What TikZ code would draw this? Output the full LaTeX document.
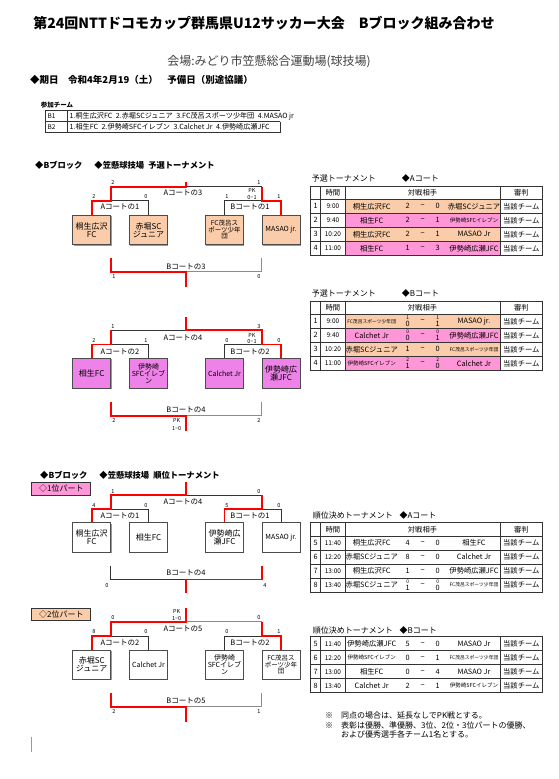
\documentclass[tikz,border=0pt]{standalone}
\usepackage{fontspec}
\setmainfont{Noto Sans CJK JP}
\usetikzlibrary{positioning, shadows}
\definecolor{peach}{RGB}{250,204,170}
\definecolor{boxpink}{RGB}{238,130,232}
\definecolor{rowpink}{RGB}{255,150,215}
\newcommand\fsz[1]{\fontsize{#1}{#1}\selectfont}
\newcommand\stk[2]{\fontsize{5}{6.5}\selectfont #1\\#2}

\begin{document}
\begin{tikzpicture}[x=1pt, y=-1pt,
  team/.style={draw=black!70, fill=white, line width=0.7pt, minimum width=38pt, minimum height=29.5pt, inner sep=1pt, align=center, font=\fsz{8}, drop shadow={shadow xshift=0.8pt, shadow yshift=-0.8pt, fill=black!40, opacity=1}},
  win/.style={red, line width=1.6pt},
  lose/.style={black!80, line width=0.6pt},
  pale/.style={black!45, line width=0.9pt},
  score/.style={font=\fsz{5.5}, inner sep=0},
  court/.style={font=\fsz{7.5}, inner sep=0},
  cell/.style={font=\fsz{7.3}, inner sep=0, align=center},
  part/.style={draw=black!80, line width=0.8pt, minimum width=59pt, minimum height=12.5pt, inner sep=0, font=\fsz{8}}
]
\fill[white] (0,0) rectangle (559,779);
\useasboundingbox (0,0) rectangle (559,779);

% heading
\node[font=\fsz{14}\bfseries, inner sep=0] (title) at (264,23) {第24回NTTドコモカップ群馬県U12サッカー大会\quad Bブロック組み合わせ};
\node[font=\fsz{12}, text=black!75, inner sep=0] (venue) at (269,61.7) {会場:みどり市笠懸総合運動場(球技場)};
\node[font=\fsz{9.5}\bfseries, anchor=west, inner sep=0] (date) at (30,80) {◆期日　令和4年2月19（土）　予備日（別途協議）};

% teams list
\node[font=\fsz{6.5}\bfseries, anchor=west, inner sep=0] (sanka) at (40.7,105.3) {参加チーム};
\draw[lose] (45.3,110) -- (280,110);
\draw[lose] (45.3,121.7) -- (280,121.7);
\draw[lose] (45.3,132.7) -- (280,132.7);
\draw[lose] (45.3,110) -- (45.3,132.7);
\draw[lose] (67.7,110) -- (67.7,132.7);
\draw[lose] (280,121.7) -- (280,132.7);
\node[font=\fsz{6.5}, anchor=west, inner sep=0] (g1) at (47.5,116) {B1};
\node[font=\fsz{6.5}, anchor=west, inner sep=0] (g2) at (47.5,127.2) {B2};
\node[font=\fsz{7.1}, anchor=west, inner sep=0] (g1t) at (69.5,116) {1.桐生広沢FC\enspace 2.赤堀SCジュニア\enspace 3.FC茂呂スポーツ少年団\enspace 4.MASAO jr};
\node[font=\fsz{7.1}, anchor=west, inner sep=0] (g2t) at (69.5,127.2) {1.相生FC\enspace 2.伊勢崎SFCイレブン\enspace 3.Calchet Jr\enspace 4.伊勢崎広瀬JFC};

% preliminary
\node[font=\fsz{8.3}\bfseries, anchor=west, inner sep=0] (hd1) at (35,165) {◆Bブロック\hspace{12pt}◆笠懸球技場\hspace{4pt}予選トーナメント};
\node[team, fill=peach] (a1) at (91.7,230) {桐生広沢\\FC};
\node[team, fill=peach] (a2) at (148.5,230) {赤堀SC\\ジュニア};
\node[team, fill=peach, font=\fsz{6.5}] (a3) at (224.5,230) {FC茂呂ス\\ポーツ少年\\団};
\node[team, fill=peach, font=\fsz{7}] (a4) at (281,230) {MASAO jr.};
\coordinate (aL) at (110.7,200.7);
\coordinate (aR) at (261.7,200.7);
\coordinate (aT) at (186,186.7);
\coordinate (aTop) at (186,181.7);
\draw[lose] (a2.north) |- (aL);
\draw[lose] (a3.north) |- (aR);
\draw[lose] (aR |- aT) -- (aT);
\draw[win] (a1.north) |- (aL) |- (aT) -- (aTop);
\draw[win] (a4.north) |- (aR) -- (aR |- aT);
\coordinate (aBL) at (110.7,258);
\coordinate (aBR) at (261.7,258);
\coordinate (aBM) at (186,271.7);
\coordinate (aBot) at (186,286.7);
\draw[pale] (aBR) |- (aBM);
\draw[win] (aBL) |- (aBM) -- (aBot);

\node[team, fill=boxpink] (b1) at (91.7,373.3) {相生FC};
\node[team, fill=boxpink, font=\fsz{7}] (b2) at (148.5,373.3) {伊勢崎\\SFCイレブ\\ン};
\node[team, fill=boxpink, font=\fsz{7}] (b3) at (224.5,373.3) {Calchet Jr};
\node[team, fill=boxpink] (b4) at (281,373.3) {伊勢崎広\\瀬JFC};
\coordinate (bL) at (110.7,344.3);
\coordinate (bR) at (261.7,344.3);
\coordinate (bT) at (186,330);
\coordinate (bTop) at (186,316.7);
\draw[lose] (b2.north) |- (bL);
\draw[lose] (b3.north) |- (bR);
\draw[lose] (bL |- bT) -- (bT);
\draw[win] (b1.north) |- (bL) -- (bL |- bT);
\draw[win] (b4.north) |- (bR) |- (bT) -- (bTop);
\coordinate (bBL) at (110.7,401.7);
\coordinate (bBR) at (261.7,401.7);
\coordinate (bBM) at (186,415.7);
\coordinate (bBot) at (186,430.7);
\draw[pale] (bBR) |- (bBM);
\draw[win] (bBL) |- (bBM) -- (bBot);

% ranking
\node[font=\fsz{8.3}\bfseries, anchor=west, inner sep=0] (hd2) at (40,475) {◆Bブロック\hspace{12pt}◆笠懸球技場\hspace{4pt}順位トーナメント};
\node[part, fill=rowpink] (p1) at (61.3,488.8) {◇1位パート};
\node[team] (c1) at (91.7,537.5) {桐生広沢\\FC};
\node[team] (c2) at (148.5,537.5) {相生FC};
\node[team] (c3) at (224.5,537.5) {伊勢崎広\\瀬JFC};
\node[team, font=\fsz{7}] (c4) at (281,537.5) {MASAO jr.};
\coordinate (cL) at (110.7,509);
\coordinate (cR) at (261.7,509);
\coordinate (cT) at (186,495);
\coordinate (cTop) at (186,481.7);
\draw[lose] (c2.north) |- (cL);
\draw[lose] (c4.north) |- (cR);
\draw[lose] (cR |- cT) -- (cT);
\draw[win] (c1.north) |- (cL) |- (cT) -- (cTop);
\draw[win] (c3.north) |- (cR) -- (cR |- cT);
\coordinate (cBL) at (110.7,565.7);
\coordinate (cBR) at (261.7,565.7);
\coordinate (cBM) at (186,579.3);
\coordinate (cBot) at (186,593.3);
\draw[lose] (cBL) |- (cBM);
\draw[win] (cBR) |- (cBM) -- (cBot);

\node[part, fill=peach] (p2) at (61.3,614.3) {◇2位パート};
\node[team] (d1) at (91.7,664.7) {赤堀SC\\ジュニア};
\node[team, font=\fsz{7}] (d2) at (148.5,664.7) {Calchet Jr};
\node[team, font=\fsz{7}] (d3) at (224.5,664.7) {伊勢崎\\SFCイレブ\\ン};
\node[team, font=\fsz{6.5}] (d4) at (281,664.7) {FC茂呂ス\\ポーツ少年\\団};
\coordinate (dL) at (110.7,636);
\coordinate (dR) at (261.7,636);
\coordinate (dT) at (186,621.7);
\coordinate (dTop) at (186,607.7);
\draw[lose] (d2.north) |- (dL);
\draw[lose] (d3.north) |- (dR);
\draw[pale] (dR |- dT) -- (dT);
\draw[win] (d1.north) |- (dL) |- (dT) -- (dTop);
\draw[win] (d4.north) |- (dR) -- (dR |- dT);
\coordinate (dBL) at (110.7,693.3);
\coordinate (dBR) at (261.7,693.3);
\coordinate (dBM) at (186,706.7);
\coordinate (dBot) at (186,721.7);
\draw[pale] (dBR) |- (dBM);
\draw[win] (dBL) |- (dBM) -- (dBot);

% bracket labels and scores
\foreach \x/\y/\t [count=\i] in {183/193/Aコートの3, 120/207/Aコートの1, 250/207/Bコートの1, 186/266.7/Bコートの3,
  183/337.3/Aコートの4, 120/351.7/Aコートの2, 250/351.7/Bコートの2, 186/409.3/Bコートの4,
  183/501.7/Aコートの4, 120/515.7/Aコートの1, 250/515.7/Bコートの1, 186/572.3/Bコートの4,
  183/628.3/Aコートの5, 120/642.7/Aコートの2, 250/642.7/Bコートの2, 186/701/Bコートの5}
  \node[court] (ct\i) at (\x,\y) {\t};
\foreach \x/\y/\v [count=\i] in {113/183/2, 259/183/1, 94/197/2, 146/197/0, 227/197/1, 279/197/1, 252/190.7/PK, 252/197.7/0−1, 114/277/1, 259/277/0,
  113/326.7/1, 259/326.7/3, 94/340.7/2, 146/340.7/1, 227/340.7/0, 279/340.7/0, 252/335/PK, 252/341.7/0−1, 114/420.7/2, 259/420.7/2, 176.7/420.7/PK, 176.7/428.3/1−0,
  113/491.7/1, 259/491.7/0, 94/505.7/4, 146/505.7/0, 227/505.7/5, 279/505.7/0, 107/586/0, 265/586/4,
  113/617.7/0, 259/617.7/0, 94/631.7/8, 146/631.7/0, 227/631.7/0, 279/631.7/1, 176.7/611/PK, 176.7/618.3/1−0, 114/711.7/2, 259/711.7/1}
  \node[score] (sc\i) at (\x,\y) {\v};

% match tables
\node[font=\fsz{8}, anchor=west, inner sep=0] (t1h) at (311.7,178.3) {予選トーナメント};
\node[font=\fsz{8}, anchor=west, inner sep=0] (t1c) at (401.7,178.3) {◆Aコート};
\node[font=\fsz{8}, anchor=west, inner sep=0] (t2h) at (311.7,293.3) {予選トーナメント};
\node[font=\fsz{8}, anchor=west, inner sep=0] (t2c) at (401.7,293.3) {◆Bコート};
\node[font=\fsz{8}, anchor=west, inner sep=0] (t3h) at (312.7,515) {順位決めトーナメント};
\node[font=\fsz{8}, anchor=west, inner sep=0] (t3c) at (399.3,515) {◆Aコート};
\node[font=\fsz{8}, anchor=west, inner sep=0] (t4h) at (312.7,630) {順位決めトーナメント};
\node[font=\fsz{8}, anchor=west, inner sep=0] (t4c) at (399.3,630) {◆Bコート};

\foreach \hb/\c in {199.3/peach, 213.3/rowpink, 227.3/peach, 241.3/rowpink, 314.3/peach, 328.3/rowpink, 342.3/peach, 356.3/rowpink}
  \fill[\c] (345,\hb) rectangle (500,\hb+14);

\foreach \top/\hb in {186/199.3, 301/314.3, 522.7/536, 636.7/636.7} {
  \foreach \k in {0,1,2,3}
    \draw[lose] (310.7,\hb+14*\k) -- (542.7,\hb+14*\k);
  \foreach \xx in {320.7,345}
    \draw[lose] (\xx,\top) -- (\xx,\hb+56);
  \draw[black!80, line width=0.9pt] (500,\top) -- (500,\hb+56);
  \draw[black!80, line width=0.8pt] (310.7,\top) rectangle (542.7,\hb+56);
}
\foreach \y [count=\i] in {192.7, 307.7, 529.4} {
  \node[cell] (hz\i) at (332.9,\y) {時間};
  \node[cell] (hv\i) at (422.5,\y) {対戦相手};
  \node[cell] (hr\i) at (521.3,\y) {審判};
}

\foreach \y/\n/\t/\p/\s/\q/\o [count=\i] in {
  206.3/1/9:00/桐生広沢FC/2/0/赤堀SCジュニア,
  220.3/2/9:40/相生FC/2/1/{\fsz{5.5}伊勢崎SFCイレブン},
  234.3/3/10:20/桐生広沢FC/2/1/MASAO Jr,
  248.3/4/11:00/相生FC/1/3/伊勢崎広瀬JFC,
  321.3/1/9:00/{\fsz{4.8}FC茂呂スポーツ少年団}/{\stk10}/{\stk11}/MASAO jr.,
  335.3/2/9:40/Calchet Jr/{\stk00}/{\stk01}/伊勢崎広瀬JFC,
  349.3/3/10:20/赤堀SCジュニア/1/0/{\fsz{4.8}FC茂呂スポーツ少年団},
  363.3/4/11:00/{\fsz{5.5}伊勢崎SFCイレブン}/{\stk21}/{\stk20}/Calchet Jr,
  543/5/11:40/桐生広沢FC/4/0/相生FC,
  557/6/12:20/赤堀SCジュニア/8/0/Calchet Jr,
  571/7/13:00/桐生広沢FC/1/0/伊勢崎広瀬JFC,
  585/8/13:40/赤堀SCジュニア/{\stk01}/{\stk00}/{\fsz{4.8}FC茂呂スポーツ少年団},
  643.7/5/11:40/伊勢崎広瀬JFC/5/0/MASAO Jr,
  657.7/6/12:20/{\fsz{5.5}伊勢崎SFCイレブン}/0/1/{\fsz{4.8}FC茂呂スポーツ少年団},
  671.7/7/13:00/相生FC/0/4/MASAO Jr,
  685.7/8/13:40/Calchet Jr/2/1/{\fsz{5.5}伊勢崎SFCイレブン}} {
  \node[cell] (no\i) at (315.7,\y) {\n};
  \node[cell, font=\fsz{6.5}] (tm\i) at (332.9,\y) {\t};
  \node[cell] (pa\i) at (371.7,\y) {\p};
  \node[cell] (sa\i) at (407.7,\y) {\s};
  \node[cell] (da\i) at (422.7,\y) {−};
  \node[cell] (sb\i) at (437.7,\y) {\q};
  \node[cell] (pb\i) at (474,\y) {\o};
  \node[cell] (rf\i) at (521.3,\y) {当該チーム};
}

% notes
\node[font=\fsz{8}, anchor=west, inner sep=0] (n1) at (325,715) {※\quad 同点の場合は、延長なしでPK戦とする。};
\node[font=\fsz{8}, anchor=west, inner sep=0] (n2) at (325,725) {※\quad 表彰は優勝、準優勝、3位、2位・3位パートの優勝、};
\node[font=\fsz{8}, anchor=west, inner sep=0] (n3) at (341,734.3) {および優秀選手各チーム1名とする。};
\draw[black!40, line width=1pt] (31.7,736.7) -- (31.7,751.7);
\end{tikzpicture}
\end{document}
